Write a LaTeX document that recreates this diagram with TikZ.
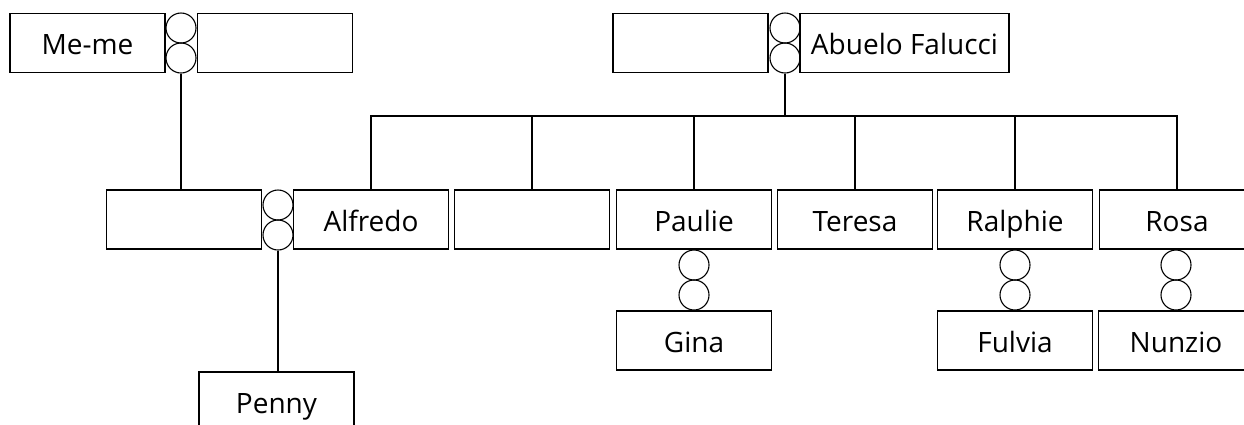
\documentclass[tikz,border=0pt]{standalone}
\usepackage{fontspec}
\setmainfont{Open Sans}
\begin{document}
\begin{tikzpicture}[x=1pt,y=-1pt,
  person/.style={draw, line width=1.1pt, minimum width=155pt, minimum height=59pt, inner sep=0pt, text height=29.5pt, text depth=6pt, font=\fontsize{28}{32}\selectfont},
  ring/.style={draw, circle, line width=1.1pt, minimum size=30pt, inner sep=0pt},
  link/.style={line width=1.1pt}]
\useasboundingbox (0,0) rectangle (1244,424);
\clip (0,0) rectangle (1244,424);
% top left couple
\node[person] (meme) at (87.5,43) {Me-me};
\node[person] (memesp) at (275,43) {};
\node[ring] (ra1) at (181,28) {};
\node[ring] (ra2) at (181,58) {};
% top right couple
\node[person] (abuelosp) at (690.5,43) {};
\node[person, minimum width=209pt] (abuelo) at (904.5,43) {Abuelo Falucci};
\node[ring] (rb1) at (785,28) {};
\node[ring] (rb2) at (785,58) {};
% second row
\node[person] (alfsp) at (184,219.5) {};
\node[person] (alfredo) at (371,219.5) {Alfredo};
\node[person] (unnamed) at (532,219.5) {};
\node[person] (paulie) at (694,219.5) {Paulie};
\node[person] (teresa) at (855,219.5) {Teresa};
\node[person] (ralphie) at (1015,219.5) {Ralphie};
\node[person] (rosa) at (1177,219.5) {Rosa};
\node[ring] (rc1) at (278,205) {};
\node[ring] (rc2) at (278,235) {};
% third row
\node[ring] (rd1) at (694,265) {};
\node[ring] (rd2) at (694,295) {};
\node[person] (gina) at (694,340.5) {Gina};
\node[ring] (re1) at (1015,265) {};
\node[ring] (re2) at (1015,295) {};
\node[person] (fulvia) at (1015,340.5) {Fulvia};
\node[ring] (rf1) at (1176,265) {};
\node[ring] (rf2) at (1176,295) {};
\node[person] (nunzio) at (1176,340.5) {Nunzio};
\node[person] (penny) at (276.5,401.5) {Penny};
% connectors
\draw[link] (ra2.south) -- (ra2.south |- alfsp.north);
\coordinate (bar) at (785,116);
\draw[link] (rb2.south) -- (bar);
\draw[link] (alfredo.north) -- (alfredo.north |- bar) -- (rosa.north |- bar) -- (rosa.north);
\foreach \c in {unnamed,paulie,teresa,ralphie}
  \draw[link] (\c.north) -- (\c.north |- bar);
\draw[link] (rc2.south) -- (rc2.south |- penny.north);
\end{tikzpicture}
\end{document}
